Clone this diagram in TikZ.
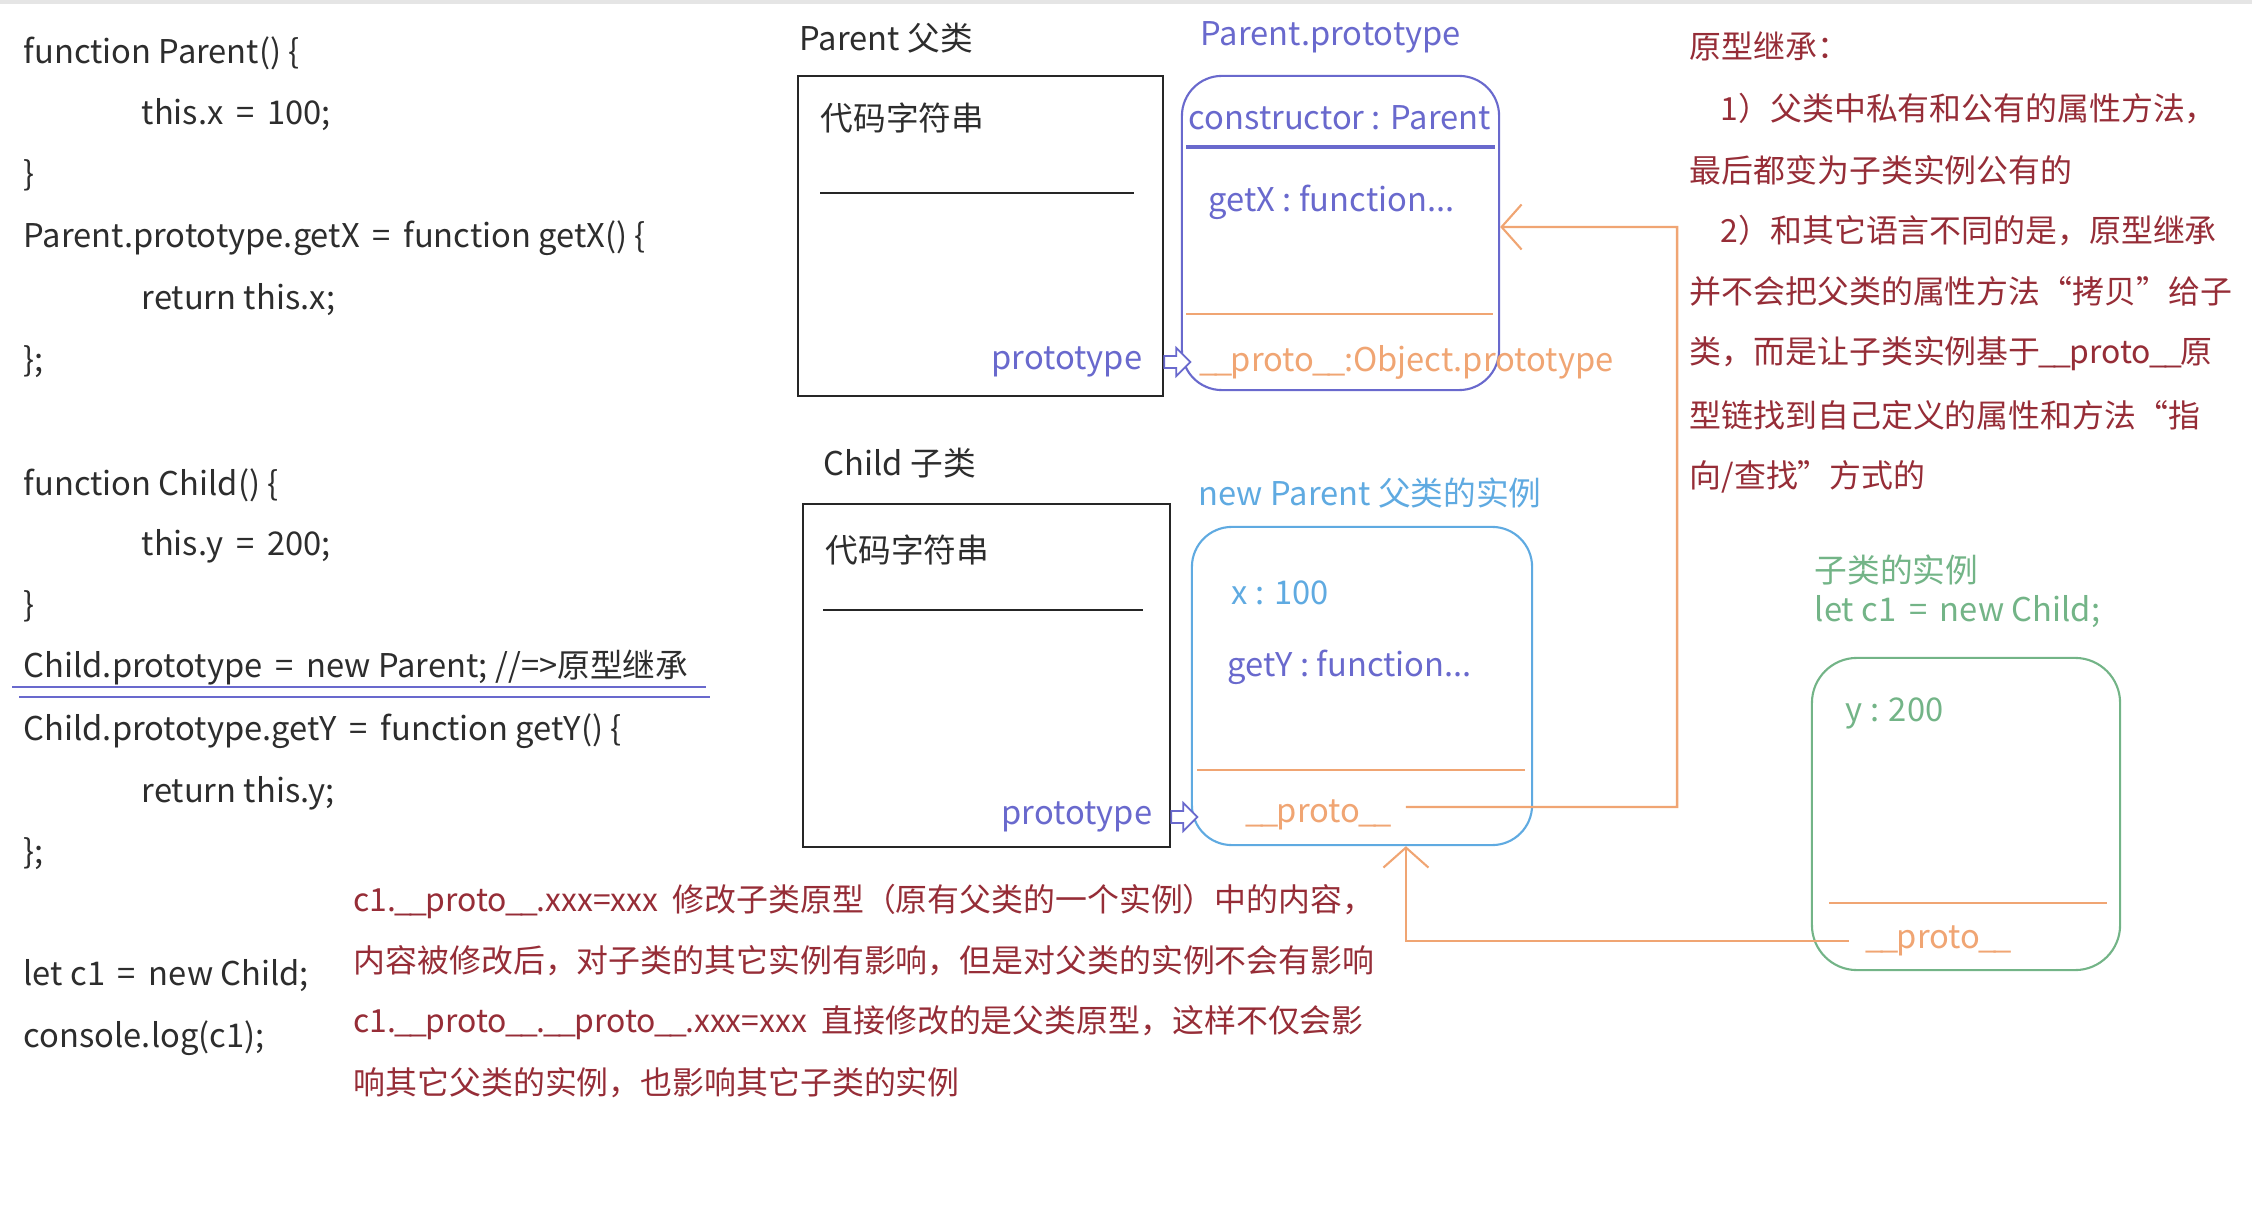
\documentclass[tikz,border=0pt]{standalone}
\usepackage{fontspec}
\setmainfont{Noto Sans CJK SC}
\usetikzlibrary{arrows.meta,calc}
\definecolor{codec}{RGB}{45,45,45}
\definecolor{pblue}{RGB}{105,105,205}
\definecolor{lblue}{RGB}{95,170,225}
\definecolor{orng}{RGB}{240,165,115}
\definecolor{grnc}{RGB}{115,180,135}
\definecolor{redc}{RGB}{150,45,55}
\newcommand\us{\kern-.05em\_\kern-.05em}
\tikzset{
  tx/.style={inner sep=0pt,anchor=west,font=\fontsize{9.3}{11}\selectfont},
  cde/.style={tx,text=codec},
  btx/.style={tx,text=pblue},
  ltx/.style={tx,text=lblue},
  otx/.style={tx,text=orng},
  gtx/.style={tx,text=grnc},
  rtx/.style={tx,text=redc,font=\fontsize{9.07}{11}\selectfont},
  codebx/.style={draw=black!85,line width=.7pt,inner sep=0pt},
  protobx/.style={draw=pblue,line width=.6pt,rounded corners=.4cm,inner sep=0pt},
  instbx/.style={draw=lblue,line width=.6pt,rounded corners=.4cm,inner sep=0pt},
  kidbx/.style={draw=grnc,line width=.6pt,rounded corners=.45cm,inner sep=0pt},
  oln/.style={draw=orng,line width=.7pt},
  oar/.style={oln,-{Straight Barb[length=.2cm,width=.45cm,line width=.6pt]}},
  har/.style={draw=pblue,line width=.5pt,fill=white,line join=miter},
}

\begin{document}
\begin{tikzpicture}[x=0.01cm,y=-0.01cm]
  \useasboundingbox (0,0) rectangle (2252,1222);
  \draw[black!10,line width=1.2pt] (0,2) -- (2252,2);
  % source code
  \node[cde] (src1)  at (23,53)   {function Parent() \{};
  \node[cde] (src2)  at (141,115) {this.x \,=\, 100;};
  \node[cde] (src3)  at (23,175)  {\}};
  \node[cde] (src4)  at (23,238)  {Parent.prototype.getX \,=\, function getX() \{};
  \node[cde] (src5)  at (141,300) {return this.x;};
  \node[cde] (src6)  at (23,362)  {\};};
  \node[cde] (src7)  at (23,485)  {function Child() \{};
  \node[cde] (src8)  at (141,546) {this.y \,=\, 200;};
  \node[cde] (src9)  at (23,606)  {\}};
  \node[cde] (src10) at (23,668)  {Child.prototype \,=\, new Parent; //=>原型继承};
  \node[cde] (src11) at (23,731)  {Child.prototype.getY \,=\, function getY() \{};
  \node[cde] (src12) at (141,793) {return this.y;};
  \node[cde] (src13) at (23,854)  {\};};
  \node[cde] (src14) at (23,976)  {let c1 \,=\, new Child;};
  \node[cde] (src15) at (23,1038) {console.log(c1);};
  \draw[pblue,line width=.5pt] (12,687) -- (706,687);
  \draw[pblue,line width=.8pt] (19,697) -- (710,697);
  % Parent and its prototype
  \node[cde] (ptitle) at (799,38) {Parent 父类};
  \node[codebx,minimum width=3.65cm,minimum height=3.2cm] (pbox) at (980.5,236) {};
  \node[cde] (pstr) at (820,118) {代码字符串};
  \draw[black!85,line width=.7pt] (820,193) -- (1134,193);
  \node[btx,anchor=east] (ptype) at (1143,362) {prototype};
  \node[btx] (pptitle) at (1200,37) {Parent.prototype};
  \node[protobx,minimum width=3.17cm,minimum height=3.14cm] (pproto) at (1340.5,233) {};
  \node[btx] (ctor) at (1188,118) {constructor : Parent};
  \draw[pblue,line width=1.4pt] (1186,147) -- (1495,147);
  \node[btx] (getx) at (1208,202) {getX : function...};
  \draw[oln] (1186,314) -- (1493,314);
  \node[otx] (pproto2) at (1200,362) {\us\us proto\us\us:Object.prototype};
  \draw[har] (pbox.east |- ptype) ++(0,-6) -- ++(12,0) -- ++(0,-8) -- ++(14,14)
    -- ++(-14,14) -- ++(0,-8) -- ++(-12,0) -- cycle;
  % Child and new Parent
  \node[cde] (ctitle) at (823,463) {Child 子类};
  \node[codebx,minimum width=3.67cm,minimum height=3.43cm] (cbox) at (986.5,675.5) {};
  \node[cde] (cstr) at (825,550) {代码字符串};
  \draw[black!85,line width=.7pt] (823,610) -- (1143,610);
  \node[btx,anchor=east] (ctype) at (1153,817) {prototype};
  \node[ltx] (ititle) at (1198,493) {new Parent 父类的实例};
  \node[instbx,minimum width=3.4cm,minimum height=3.18cm] (ibox) at (1362,686) {};
  \node[ltx] (ix) at (1231,593) {x : 100};
  \node[btx] (igety) at (1227,667) {getY : function...};
  \draw[oln] (1197,770) -- (1525,770);
  \node[otx] (iproto) at (1246,815) {\us\us proto\us\us};
  \draw[har] (cbox.east |- ctype) ++(0,-6) -- ++(12,0) -- ++(0,-8) -- ++(14,14)
    -- ++(-14,14) -- ++(0,-8) -- ++(-12,0) -- cycle;
  % instance of Child
  \node[gtx] (ktitle) at (1814,570) {子类的实例};
  \node[gtx] (knew) at (1814,612) {let c1 \,=\, new Child;};
  \node[kidbx,minimum width=3.08cm,minimum height=3.12cm] (kbox) at (1966,814) {};
  \node[gtx] (ky) at (1845,713) {y : 200};
  \draw[oln] (1829,903) -- (2107,903);
  \node[otx] (kproto) at (1866,941) {\us\us proto\us\us};
  % proto chain
  \coordinate (ipx) at ([xshift=.15cm]iproto.east);
  \coordinate (bend) at (1677,227);
  \draw[oar] ([yshift=.08cm]ipx) -| (bend) -- ([yshift=.06cm]pproto.east);
  \draw[oar] ([xshift=-.17cm]kproto.west) -| (ipx |- ibox.south);
  % notes
  \node[rtx] (rn1) at (1689,46)  {原型继承：};
  \node[rtx] (rn2) at (1720,109) {1）父类中私有和公有的属性方法，};
  \node[rtx] (rn3) at (1689,170) {最后都变为子类实例公有的};
  \node[rtx] (rn4) at (1720,231) {2）和其它语言不同的是，原型继承};
  \node[rtx] (rn5) at (1689,291) {并不会把父类的属性方法“拷贝”给子};
  \node[rtx] (rn6) at (1689,354) {类，而是让子类实例基于\us\us proto\us\us 原};
  \node[rtx] (rn7) at (1689,415) {型链找到自己定义的属性和方法“指};
  \node[rtx] (rn8) at (1689,477) {向/查找”方式的};
  \node[rtx] (bn1) at (353,901)  {c1.\us\us proto\us\us.xxx=xxx\ \ 修改子类原型（原有父类的一个实例）中的内容，};
  \node[rtx] (bn2) at (353,961)  {内容被修改后，对子类的其它实例有影响，但是对父类的实例不会有影响};
  \node[rtx] (bn3) at (353,1023) {c1.\us\us proto\us\us.\us\us proto\us\us.xxx=xxx\ \ 直接修改的是父类原型，这样不仅会影};
  \node[rtx] (bn4) at (353,1083) {响其它父类的实例，也影响其它子类的实例};
\end{tikzpicture}
\end{document}
